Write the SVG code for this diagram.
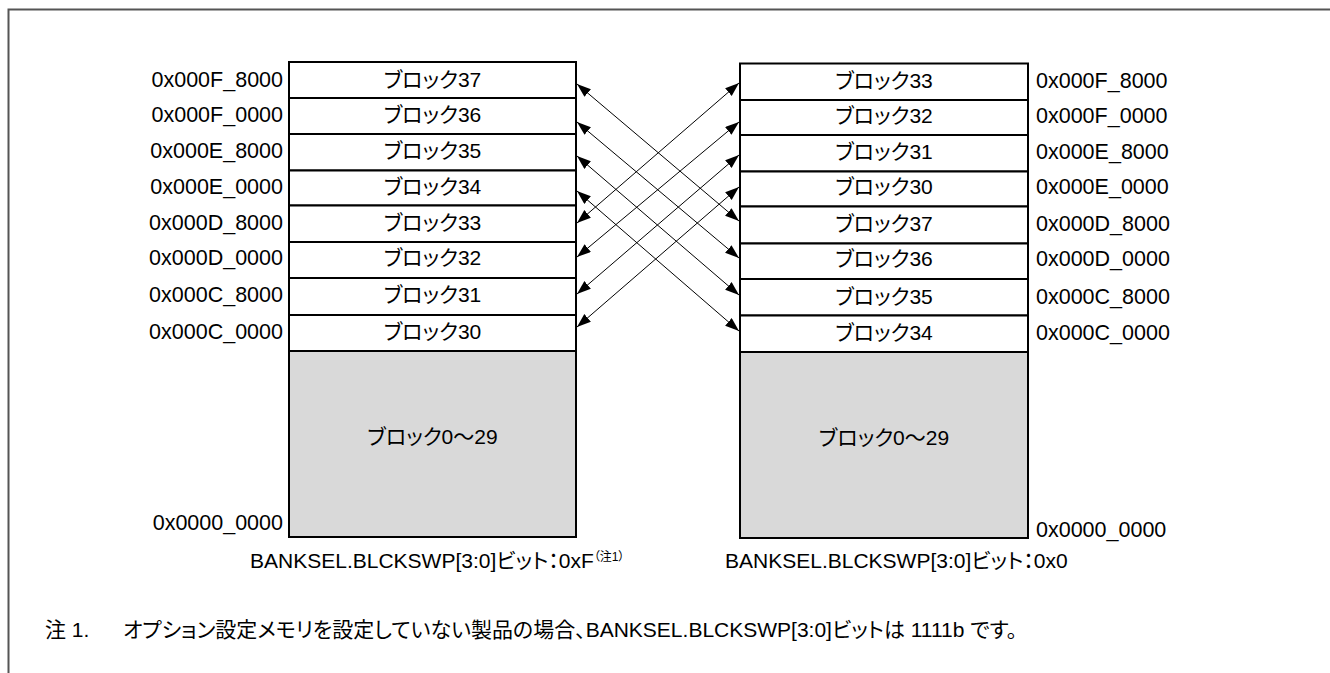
<svg xmlns="http://www.w3.org/2000/svg" width="1330" height="673" viewBox="0 0 1330 673">
  <style>
    text { font-family: "Liberation Sans", "Noto Sans CJK JP", sans-serif; font-size: 21px; fill: #000; font-feature-settings: "palt"; }
    .c { text-anchor: middle; }
    .r { text-anchor: end; }
    .addr { font-size: 21.5px; }
    .blk { fill: #fff; stroke: #000; stroke-width: 2; }
    .gray { fill: #d9d9d9; stroke: #000; stroke-width: 2; }
    .frame { fill: none; stroke: #555; stroke-width: 2; }
    .conn line { stroke: #000; stroke-width: 1; marker-start: url(#ah); marker-end: url(#ah); }
    .sup { font-size: 12px; }
  </style>
  <defs>
    <marker id="ah" markerUnits="userSpaceOnUse" markerWidth="15" markerHeight="11" refX="14" refY="5" orient="auto-start-reverse">
      <path d="M0,0 L14,5 L0,10 z" fill="#000"/>
    </marker>
  </defs>
  <rect width="1330" height="673" fill="#fff"/>
  <path class="frame" d="M8.5,673 V9.5 H1330"/>

  <!-- left column -->
  <g id="left-addr">
    <text class="r addr" x="283" y="87">0x000F_8000</text>
    <text class="r addr" x="283" y="122">0x000F_0000</text>
    <text class="r addr" x="283" y="158">0x000E_8000</text>
    <text class="r addr" x="283" y="193.5">0x000E_0000</text>
    <text class="r addr" x="283" y="229.5">0x000D_8000</text>
    <text class="r addr" x="283" y="265">0x000D_0000</text>
    <text class="r addr" x="283" y="302">0x000C_8000</text>
    <text class="r addr" x="283" y="338.5">0x000C_0000</text>
    <text class="r addr" x="283" y="530">0x0000_0000</text>
  </g>
  <g id="L37"><rect class="blk" x="289" y="62" width="287" height="36"/><text class="c" x="432.5" y="87">ブロック37</text></g>
  <g id="L36"><rect class="blk" x="289" y="98" width="287" height="36"/><text class="c" x="432.5" y="122">ブロック36</text></g>
  <g id="L35"><rect class="blk" x="289" y="134" width="287" height="36.5"/><text class="c" x="432.5" y="158">ブロック35</text></g>
  <g id="L34"><rect class="blk" x="289" y="170.5" width="287" height="35"/><text class="c" x="432.5" y="193.5">ブロック34</text></g>
  <g id="L33"><rect class="blk" x="289" y="205.5" width="287" height="36.5"/><text class="c" x="432.5" y="229.5">ブロック33</text></g>
  <g id="L32"><rect class="blk" x="289" y="242" width="287" height="36"/><text class="c" x="432.5" y="265">ブロック32</text></g>
  <g id="L31"><rect class="blk" x="289" y="278" width="287" height="37"/><text class="c" x="432.5" y="302">ブロック31</text></g>
  <g id="L30"><rect class="blk" x="289" y="315" width="287" height="36"/><text class="c" x="432.5" y="338.5">ブロック30</text></g>
  <g id="L0"><rect class="gray" x="289" y="351" width="287" height="186"/><text class="c" x="432.5" y="444">ブロック0～29</text></g>

  <!-- right column -->
  <g id="right-addr">
    <text class="addr" x="1036" y="87.5">0x000F_8000</text>
    <text class="addr" x="1036" y="122.5">0x000F_0000</text>
    <text class="addr" x="1036" y="159">0x000E_8000</text>
    <text class="addr" x="1036" y="194">0x000E_0000</text>
    <text class="addr" x="1036" y="231">0x000D_8000</text>
    <text class="addr" x="1036" y="266">0x000D_0000</text>
    <text class="addr" x="1036" y="304">0x000C_8000</text>
    <text class="addr" x="1036" y="340">0x000C_0000</text>
    <text class="addr" x="1036" y="537">0x0000_0000</text>
  </g>
  <g id="R33"><rect class="blk" x="740" y="63.5" width="288" height="36.5"/><text class="c" x="884" y="87.5">ブロック33</text></g>
  <g id="R32"><rect class="blk" x="740" y="100" width="288" height="35"/><text class="c" x="884" y="122.5">ブロック32</text></g>
  <g id="R31"><rect class="blk" x="740" y="135" width="288" height="36.5"/><text class="c" x="884" y="159">ブロック31</text></g>
  <g id="R30"><rect class="blk" x="740" y="171.5" width="288" height="35"/><text class="c" x="884" y="194">ブロック30</text></g>
  <g id="R37"><rect class="blk" x="740" y="206.5" width="288" height="37"/><text class="c" x="884" y="231">ブロック37</text></g>
  <g id="R36"><rect class="blk" x="740" y="243.5" width="288" height="35.5"/><text class="c" x="884" y="266">ブロック36</text></g>
  <g id="R35"><rect class="blk" x="740" y="279" width="288" height="36.5"/><text class="c" x="884" y="304">ブロック35</text></g>
  <g id="R34"><rect class="blk" x="740" y="315.5" width="288" height="36.5"/><text class="c" x="884" y="340">ブロック34</text></g>
  <g id="R0"><rect class="gray" x="740" y="352" width="288" height="186"/><text class="c" x="884" y="445">ブロック0～29</text></g>

  <!-- connectors -->
  <g id="connectors" class="conn">
    <line x1="577" y1="84" x2="739" y2="221"/>
    <line x1="577" y1="122" x2="739" y2="258"/>
    <line x1="577" y1="156" x2="739" y2="295"/>
    <line x1="577" y1="191" x2="739" y2="331"/>
    <line x1="577" y1="223" x2="739" y2="83"/>
    <line x1="577" y1="257" x2="739" y2="122"/>
    <line x1="577" y1="294" x2="739" y2="155"/>
    <line x1="577" y1="327" x2="739" y2="187"/>
  </g>

  <!-- captions -->
  <g id="captions">
    <text x="250" y="568">BANKSEL.BLCKSWP[3:0]ビット：0xF<tspan class="sup" dy="-7">（注1）</tspan></text>
    <text x="725" y="568">BANKSEL.BLCKSWP[3:0]ビット：0x0</text>
  </g>
  <g id="note">
    <text x="45" y="637">注 1.<tspan x="123">オプション設定メモリを設定していない製品の場合、BANKSEL.BLCKSWP[3:0]ビットは 1111b です。</tspan></text>
  </g>
</svg>
